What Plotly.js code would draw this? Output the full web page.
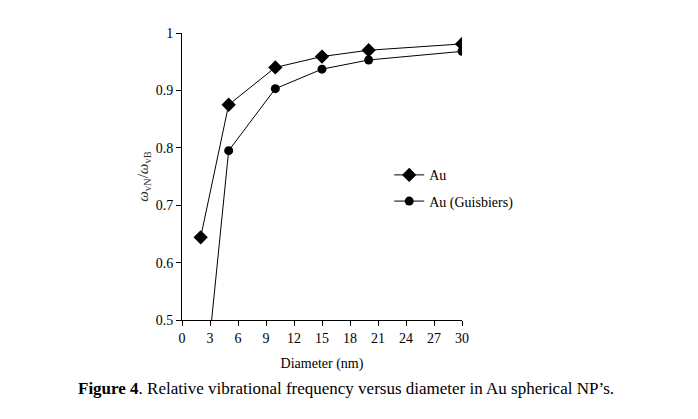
<!DOCTYPE html>
<html>
<head>
<meta charset="utf-8">
<script src="https://cdn.plot.ly/plotly-3.0.1.min.js"></script>
<style>html,body{margin:0;padding:0;background:#fff;}#chart{width:698px;height:419px;}</style>
</head>
<body>
<div id="chart"></div>
<script>
const diameter = [2, 5, 10, 15, 20, 30];
const auValues = [0.644, 0.875, 0.940, 0.959, 0.970, 0.981];
const guisbiersValues = [0.31, 0.795, 0.903, 0.937, 0.953, 0.968];
const xTicks = [0, 3, 6, 9, 12, 15, 18, 21, 24, 27, 30];
const yTicks = [0.5, 0.6, 0.7, 0.8, 0.9, 1];

const font = "Liberation Serif";

const traces = [
  {
    x: diameter, y: auValues, name: 'Au', type: 'scatter', mode: 'lines+markers',
    legendgroup: 'g1',
    line: {color: '#000', width: 1},
    marker: {symbol: 'diamond', size: 11, color: '#000'}
  },
  {
    x: diameter, y: guisbiersValues, name: 'Au (Guisbiers)', type: 'scatter', mode: 'lines+markers',
    legendgroup: 'g2',
    line: {color: '#000', width: 1},
    marker: {symbol: 'circle', size: 9, color: '#000'}
  }
];

const layout = {
  width: 698, height: 419,
  margin: {l: 182, r: 236, t: 33, b: 99},
  paper_bgcolor: '#fff', plot_bgcolor: '#fff',
  font: {family: font, size: 14, color: '#000'},
  showlegend: true,
  legend: {x: 0.74, y: 0.56, xanchor: 'left', yanchor: 'top', bgcolor: 'rgba(0,0,0,0)',
           font: {family: font, size: 14, color: '#000'}, tracegroupgap: 5, itemwidth: 30},
  xaxis: {
    range: [0, 30], tickvals: xTicks, ticktext: xTicks.map(String),
    showgrid: false, zeroline: false, showline: true, linecolor: '#000', linewidth: 1,
    ticks: 'outside', ticklen: 5, tickcolor: '#000',
    tickfont: {family: font, size: 14, color: '#000'},
    title: {text: 'Diameter (nm)', font: {family: font, size: 14, color: '#000'}, standoff: 13}
  },
  yaxis: {
    range: [0.5, 1], tickvals: yTicks, ticktext: yTicks.map(String),
    showgrid: false, zeroline: false, showline: true, linecolor: '#000', linewidth: 1,
    ticks: 'outside', ticklen: 5, tickcolor: '#000',
    tickfont: {family: font, size: 14, color: '#000'},
    title: {text: '<i>ω</i><sub>vN</sub>/<i>ω</i><sub>vB</sub>', font: {family: font, size: 15, color: '#333'}, standoff: 3}
  },
  annotations: [
    {
      xref: 'paper', yref: 'paper', x: 0.5, y: -0.2, xanchor: 'center', yanchor: 'top',
      xshift: 24, yshift: 0,
      text: '<b>Figure 4</b>. Relative vibrational frequency versus diameter in Au spherical NP’s.',
      showarrow: false, font: {family: font, size: 17, color: '#000'}
    }
  ]
};

Plotly.newPlot('chart', traces, layout, {displayModeBar: false, staticPlot: true});
</script>
</body>
</html>
